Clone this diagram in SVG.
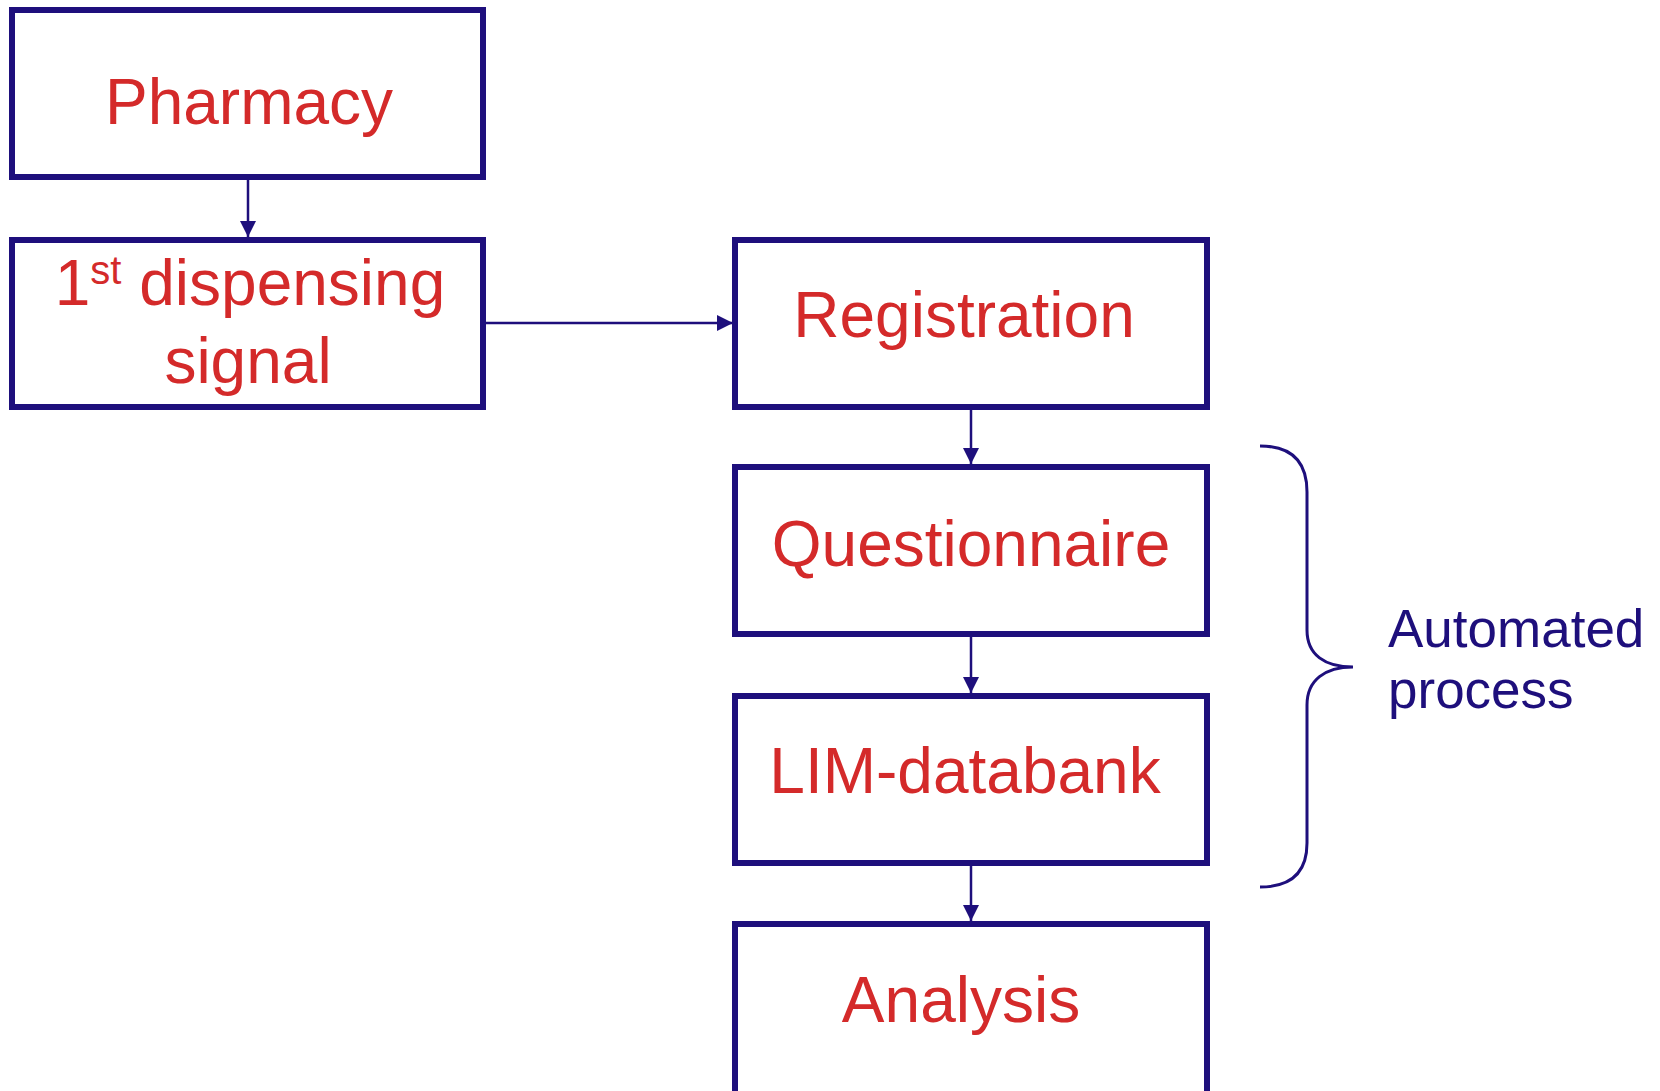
<svg xmlns="http://www.w3.org/2000/svg" width="1660" height="1091" viewBox="0 0 1660 1091">
<style>
.box{fill:#fff;stroke:#1e0f7c;stroke-width:6}
.lbl{font-family:"Liberation Sans",Arial,sans-serif;font-size:64px;fill:#d42a2a;text-anchor:middle}
.side{font-family:"Liberation Sans",Arial,sans-serif;font-size:53px;fill:#1e0f7c}
.conn{fill:none;stroke:#1e0f7c;stroke-width:2.5}
</style>
<defs>
<marker id="ah" viewBox="0 0 16 16" markerWidth="16" markerHeight="16" refX="16" refY="8" markerUnits="userSpaceOnUse" orient="auto">
<path d="M0,0 L16,8 L0,16 z" fill="#1e0f7c"/>
</marker>
</defs>
<rect width="1660" height="1091" fill="#fff"/>
<g id="connectors">
<line class="conn" x1="248" y1="180" x2="248" y2="237" marker-end="url(#ah)"/>
<line class="conn" x1="486" y1="323" x2="733" y2="323" marker-end="url(#ah)"/>
<line class="conn" x1="971" y1="410" x2="971" y2="464" marker-end="url(#ah)"/>
<line class="conn" x1="971" y1="637" x2="971" y2="693" marker-end="url(#ah)"/>
<line class="conn" x1="971" y1="866" x2="971" y2="921" marker-end="url(#ah)"/>
</g>
<g id="pharmacy">
<rect class="box" x="12" y="10" width="471" height="167"/>
<text class="lbl" x="249" y="124">Pharmacy</text>
</g>
<g id="dispensing">
<rect class="box" x="12" y="240" width="471" height="167"/>
<text class="lbl" x="250" y="305">1<tspan font-size="40" dy="-21">st</tspan><tspan dy="21"> dispensing</tspan></text>
<text class="lbl" x="248" y="383">signal</text>
</g>
<g id="registration">
<rect class="box" x="735" y="240" width="472" height="167"/>
<text class="lbl" x="964" y="337">Registration</text>
</g>
<g id="questionnaire">
<rect class="box" x="735" y="467" width="472" height="167"/>
<text class="lbl" x="971" y="566">Questionnaire</text>
</g>
<g id="lim">
<rect class="box" x="735" y="696" width="472" height="167"/>
<text class="lbl" x="965" y="793">LIM-databank</text>
</g>
<g id="analysis">
<rect class="box" x="735" y="924" width="472" height="170"/>
<text class="lbl" x="961" y="1022">Analysis</text>
</g>
<g id="automated">
<path d="M1260,446 C1292,446 1307,462 1307,492 L1307,630 C1307,655 1325,667 1353,667 C1325,667 1307,680 1307,705 L1307,843 C1307,872 1292,887 1260,887" fill="none" stroke="#1e0f7c" stroke-width="3"/>
<text class="side" x="1388" y="647">Automated</text>
<text class="side" x="1388" y="708">process</text>
</g>
</svg>
